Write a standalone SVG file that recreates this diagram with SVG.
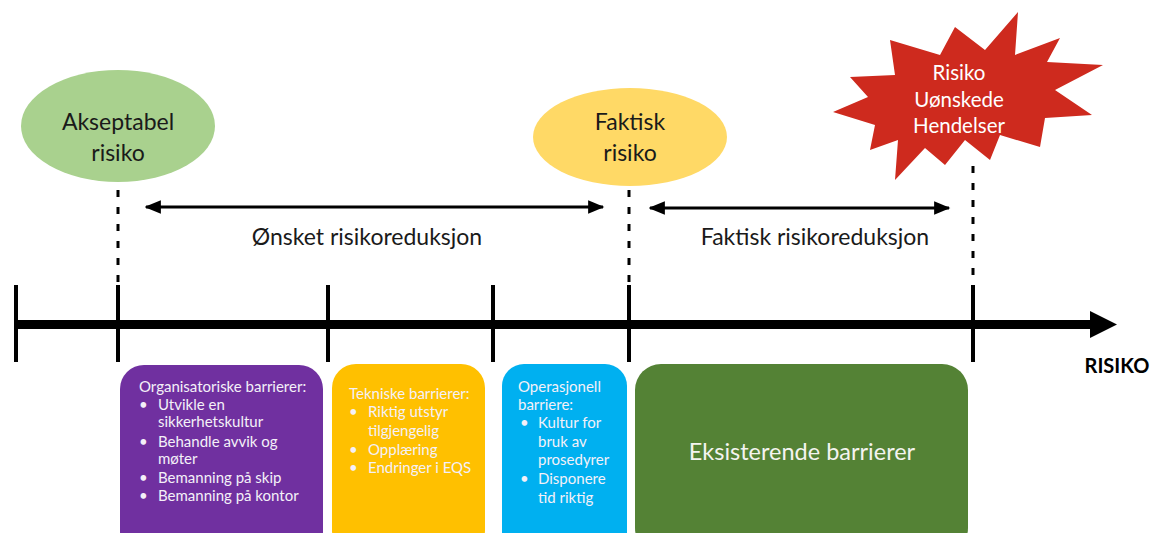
<svg xmlns="http://www.w3.org/2000/svg" width="1157" height="533" viewBox="0 0 1157 533">
<defs>
<marker id="ah" viewBox="0 0 12 10" refX="11" refY="5" markerWidth="5.5" markerHeight="4.5" orient="auto-start-reverse" markerUnits="strokeWidth">
<path d="M0,0 L12,5 L0,10 Z" fill="#000"/>
</marker>
<style>
.lbl{font-family:Lato,"Open Sans","Liberation Sans",sans-serif;fill:#1a1a1a}
.big{font-size:23px}
.box{font-family:Lato,"Open Sans","Liberation Sans",sans-serif;font-size:15px;fill:#f4f0f8}
.tick{stroke:#000;stroke-width:4}
.dash{stroke:#000;stroke-width:3;stroke-dasharray:7 10}
.dbl{stroke:#000;stroke-width:3;fill:none}
.star{font-family:Lato,"Open Sans",sans-serif;font-size:20.5px;fill:#fff}
</style>
</defs>
<rect width="1157" height="533" fill="#fff"/>

<g id="connectors">
<line class="dash" x1="118" y1="190" x2="118" y2="285"/>
<line class="dash" x1="629" y1="190" x2="629" y2="285"/>
<line class="dash" x1="973" y1="166" x2="973" y2="285"/>
<line class="dbl" x1="146" y1="207" x2="603" y2="207" marker-start="url(#ah)" marker-end="url(#ah)"/>
<line class="dbl" x1="650" y1="208" x2="949" y2="208" marker-start="url(#ah)" marker-end="url(#ah)"/>
</g>

<g id="axis">
<rect x="15" y="320" width="1078" height="9" fill="#000"/>
<polygon points="1090,311 1117,324.5 1090,338" fill="#000"/>
<line class="tick" x1="16" y1="285" x2="16" y2="362"/>
<line class="tick" x1="118" y1="285" x2="118" y2="362"/>
<line class="tick" x1="328" y1="285" x2="328" y2="362"/>
<line class="tick" x1="493" y1="285" x2="493" y2="362"/>
<line class="tick" x1="629" y1="285" x2="629" y2="362"/>
<line class="tick" x1="973" y1="285" x2="973" y2="362"/>
<text x="1117" y="373" text-anchor="middle" font-family="'Liberation Sans Narrow',Lato,'Liberation Sans',sans-serif" font-weight="bold" font-size="20" fill="#000">RISIKO</text>
</g>

<g id="akseptabel">
<ellipse cx="118" cy="126" rx="97" ry="56" fill="#A9D18E"/>
<text class="lbl big" x="118" y="130" text-anchor="middle">Akseptabel</text>
<text class="lbl big" x="118" y="161" text-anchor="middle">risiko</text>
</g>

<g id="faktisk">
<ellipse cx="630" cy="137" rx="97" ry="49" fill="#FFD966"/>
<text class="lbl big" x="630" y="130" text-anchor="middle">Faktisk</text>
<text class="lbl big" x="630" y="161" text-anchor="middle">risiko</text>
</g>

<g id="risiko-star">
<polygon fill="#CE2A1E" points="1018,12 1015,55 1060,38 1047,62 1103,65 1055,90 1092,115 1045,118 1040,147 1000,135 990,160 965,140 945,165 925,148 895,180 898,140 870,150 875,125 833,112 868,97 850,77 895,75 890,40 940,55 955,27 985,50"/>
<text class="star" x="959" y="80" text-anchor="middle">Risiko</text>
<text class="star" x="959" y="107" text-anchor="middle">Uønskede</text>
<text class="star" x="959" y="133" text-anchor="middle">Hendelser</text>
</g>

<g id="onsket-label">
<text class="lbl big" x="367" y="245" text-anchor="middle">Ønsket risikoreduksjon</text>
</g>
<g id="faktisk-label">
<text class="lbl big" x="815" y="245" text-anchor="middle">Faktisk risikoreduksjon</text>
</g>

<g id="organisatoriske">
<rect x="120" y="365" width="203" height="190" rx="24" fill="#7030A0"/>
<text class="box" x="139" y="392">Organisatoriske barrierer:</text>
<text class="box" x="139" y="410">•</text><text class="box" x="158" y="410">Utvikle en</text>
<text class="box" x="158" y="427">sikkerhetskultur</text>
<text class="box" x="139" y="447">•</text><text class="box" x="158" y="447">Behandle avvik og</text>
<text class="box" x="158" y="464">møter</text>
<text class="box" x="139" y="483">•</text><text class="box" x="158" y="483">Bemanning på skip</text>
<text class="box" x="139" y="501">•</text><text class="box" x="158" y="501">Bemanning på kontor</text>
</g>

<g id="tekniske">
<rect x="332" y="364" width="153" height="190" rx="24" fill="#FFC000"/>
<text class="box" x="349" y="399">Tekniske barrierer:</text>
<text class="box" x="349" y="417">•</text><text class="box" x="368" y="417">Riktig utstyr</text>
<text class="box" x="368" y="436">tilgjengelig</text>
<text class="box" x="349" y="455">•</text><text class="box" x="368" y="455">Opplæring</text>
<text class="box" x="349" y="473">•</text><text class="box" x="368" y="473">Endringer i EQS</text>
</g>

<g id="operasjonell">
<rect x="502" y="364" width="125" height="190" rx="22" fill="#00B0F0"/>
<text class="box" x="518" y="392">Operasjonell</text>
<text class="box" x="518" y="410">barriere:</text>
<text class="box" x="520" y="428">•</text><text class="box" x="538" y="428">Kultur for</text>
<text class="box" x="538" y="447">bruk av</text>
<text class="box" x="538" y="465">prosedyrer</text>
<text class="box" x="520" y="484">•</text><text class="box" x="538" y="484">Disponere</text>
<text class="box" x="538" y="503">tid riktig</text>
</g>

<g id="eksisterende">
<rect x="635" y="364" width="333" height="190" rx="26" fill="#548235"/>
<text x="802" y="460" text-anchor="middle" font-family="Lato,'Open Sans',sans-serif" font-size="23.5" fill="#f4f4f0">Eksisterende barrierer</text>
</g>
</svg>
